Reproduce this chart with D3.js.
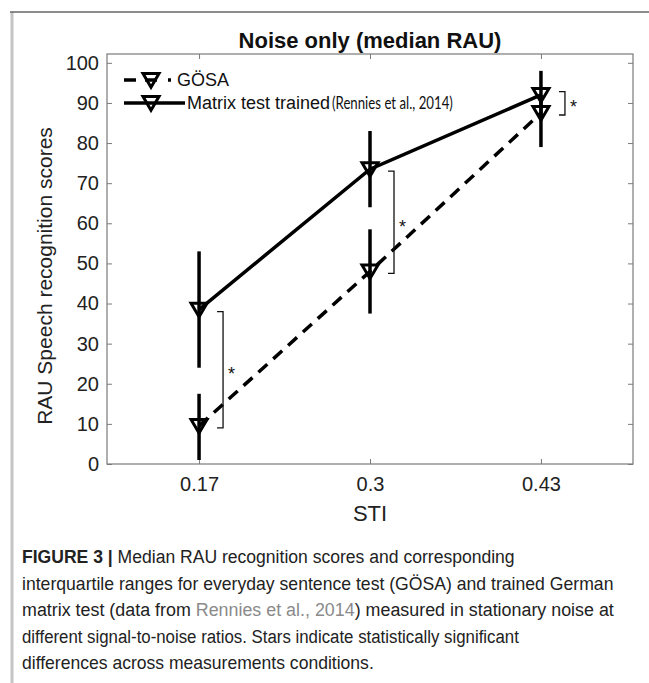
<!DOCTYPE html>
<html>
<head>
<meta charset="utf-8">
<script src="https://cdn.jsdelivr.net/npm/d3@7"></script>
<style>
    body { margin: 0; background: #ffffff; }
    svg { display: block; }
</style>
</head>
<body>
<script>
// 数据：STI 与两组测试的中位数、四分位区间
const stiValues = [0.17, 0.3, 0.43];
const stiLabels = ['0.17', '0.3', '0.43'];
const yTicks = [0, 10, 20, 30, 40, 50, 60, 70, 80, 90, 100];

const gosaMedian = [9.5, 48, 87.5];
const gosaLow = [1, 37.5, 79];
const gosaHigh = [17.5, 58.5, 92];

const matrixMedian = [38.5, 73.5, 92];
const matrixLow = [24, 64, 86];
const matrixHigh = [53, 83, 98];

// 显著性括号：所在 STI、上下端值、星号位置
const sigSti = [0.17, 0.3, 0.43];
const sigLow = [9, 47.5, 87];
const sigHigh = [38, 73, 92.8];
const sigStar = [23.5, 60, 90];

const captionLines = [
    [{t: 'FIGURE 3 | ', b: true}, {t: 'Median RAU recognition scores and corresponding'}],
    [{t: 'interquartile ranges for everyday sentence test (GÖSA) and trained German'}],
    [{t: 'matrix test (data from '}, {t: 'Rennies et al., 2014', c: '#8a8a8a'}, {t: ') measured in stationary noise at'}],
    [{t: 'different signal-to-noise ratios. Stars indicate statistically significant'}],
    [{t: 'differences across measurements conditions.'}]
];
const captionWidths = [493, 592, 592, 497, 352];

const width = 649, height = 683;
const margin = {left: 107, right: 16, top: 54, bottom: 218};

const svg = d3.select('body').append('svg')
    .attr('width', width)
    .attr('height', height)
    .style('font-family', 'Arial, "Liberation Sans", sans-serif');

// 页面边框
svg.append('line').attr('x1', 12).attr('x2', 12).attr('y1', 12).attr('y2', height)
    .attr('stroke', '#c4c4c4').attr('stroke-width', 3);
svg.append('line').attr('x1', 10).attr('x2', width).attr('y1', 12).attr('y2', 12)
    .attr('stroke', '#666666').attr('stroke-width', 1.5);

const x = d3.scaleLinear().domain([0.1, 0.5]).range([margin.left, width - margin.right]);
const y = d3.scaleLinear().domain([0, 102.2]).range([height - margin.bottom - 1, margin.top]);

const axisColor = '#7a7a7a';

// 把文字横向压缩到指定宽度
const squeezeTo = (sel, x0, y0, target) => {
    const w = sel.node().getComputedTextLength();
    const k = Math.min(1.2, target / w);
    sel.attr('x', 0).attr('y', 0)
        .attr('transform', `translate(${x0},${y0}) scale(${k},1)`);
};

// 坐标轴（MATLAB 风格，刻度向内，四边闭合）
const styleAxis = (g) => {
    g.select('.domain').remove();
    g.selectAll('.tick line').attr('stroke', axisColor);
    g.selectAll('.tick text')
        .attr('fill', '#222222')
        .style('font-size', '20px');
};

svg.append('g')
    .attr('transform', `translate(${x.range()[0]},0)`)
    .call(d3.axisLeft(y).tickValues(yTicks).tickSize(-5).tickPadding(8))
    .call(styleAxis);
svg.append('g')
    .attr('transform', `translate(${x.range()[1]},0)`)
    .call(d3.axisRight(y).tickValues(yTicks).tickSize(-5).tickFormat(''))
    .call(styleAxis);
svg.append('g')
    .attr('transform', `translate(0,${y.range()[0]})`)
    .call(d3.axisBottom(x).tickValues(stiValues).tickFormat((d, i) => stiLabels[i]).tickSize(-5).tickPadding(13))
    .call(styleAxis);
svg.append('g')
    .attr('transform', `translate(0,${y.range()[1]})`)
    .call(d3.axisTop(x).tickValues(stiValues).tickSize(-5).tickFormat(''))
    .call(styleAxis);

svg.append('rect')
    .attr('x', x.range()[0]).attr('y', y.range()[1])
    .attr('width', x.range()[1] - x.range()[0])
    .attr('height', y.range()[0] - y.range()[1])
    .attr('fill', 'none')
    .attr('stroke', axisColor)
    .attr('stroke-width', 1.2);

// 标题与轴标题
svg.append('text')
    .attr('x', (x.range()[0] + x.range()[1]) / 2).attr('y', 48)
    .attr('text-anchor', 'middle')
    .style('font-size', '22px').style('font-weight', 'bold')
    .attr('fill', '#111111')
    .text('Noise only (median RAU)');

svg.append('text')
    .attr('transform', `translate(52,${(y.range()[0] + y.range()[1]) / 2 + 17}) rotate(-90)`)
    .attr('text-anchor', 'middle')
    .style('font-size', '21px')
    .attr('fill', '#222222')
    .text('RAU Speech recognition scores');

svg.append('text')
    .attr('x', (x.range()[0] + x.range()[1]) / 2).attr('y', 521)
    .attr('text-anchor', 'middle')
    .style('font-size', '22px')
    .attr('fill', '#222222')
    .text('STI');

// 折线
const lineGen = d3.line().x(d => x(d[0])).y(d => y(d[1]));
const lineW = 3.5;

svg.append('path')
    .datum(d3.zip(stiValues, gosaMedian))
    .attr('d', lineGen)
    .attr('fill', 'none').attr('stroke', '#000').attr('stroke-width', lineW)
    .attr('stroke-dasharray', '12,8');

svg.append('path')
    .datum(d3.zip(stiValues, matrixMedian))
    .attr('d', lineGen)
    .attr('fill', 'none').attr('stroke', '#000').attr('stroke-width', lineW);

// 误差线（四分位区间）
const drawErrors = (lows, highs) => {
    svg.append('g').selectAll('line')
        .data(d3.zip(stiValues, lows, highs))
        .join('line')
        .attr('x1', d => x(d[0])).attr('x2', d => x(d[0]))
        .attr('y1', d => y(d[1])).attr('y2', d => y(d[2]))
        .attr('stroke', '#000').attr('stroke-width', lineW);
};
drawErrors(gosaLow, gosaHigh);
drawErrors(matrixLow, matrixHigh);

// 倒三角标记
const tri = s => `M${-s},${-s * 0.8}L${s},${-s * 0.8}L0,${s * 0.9}Z`;
const drawMarkers = (medians) => {
    svg.append('g').selectAll('path')
        .data(d3.zip(stiValues, medians))
        .join('path')
        .attr('transform', d => `translate(${x(d[0])},${y(d[1])})`)
        .attr('d', tri(8))
        .attr('fill', 'none').attr('stroke', '#000').attr('stroke-width', 3)
        .attr('stroke-linejoin', 'miter');
};
drawMarkers(gosaMedian);
drawMarkers(matrixMedian);

// 显著性括号与星号
const sigG = svg.append('g');
d3.zip(sigSti, sigLow, sigHigh, sigStar).forEach(([s, lo, hi, st]) => {
    const bx = x(s) + 24;
    sigG.append('path')
        .attr('d', `M${bx - 6},${y(hi)}H${bx}V${y(lo)}H${bx - 6}`)
        .attr('fill', 'none').attr('stroke', '#111').attr('stroke-width', 1.3);
    sigG.append('text')
        .attr('x', bx + 5).attr('y', y(st) + 10)
        .style('font-size', '18px')
        .attr('fill', '#111')
        .text('*');
});

// 图例
const legend = svg.append('g');
const legendRows = [
    {y: 80, dash: '12,9,12,11,3,100', x2: 174, tx: 177, label: 'GÖSA', extra: ''},
    {y: 103, dash: null, x2: 185, tx: 187, label: 'Matrix test trained', extra: '(Rennies et al., 2014)'}
];
legendRows.forEach(r => {
    legend.append('line')
        .attr('x1', 124).attr('x2', r.x2).attr('y1', r.y).attr('y2', r.y)
        .attr('stroke', '#000').attr('stroke-width', lineW)
        .attr('stroke-dasharray', r.dash);
    legend.append('path')
        .attr('transform', `translate(151,${r.y})`)
        .attr('d', tri(8))
        .attr('fill', 'none').attr('stroke', '#000').attr('stroke-width', 3);
    legend.append('text')
        .attr('x', r.tx).attr('y', r.y + 6)
        .style('font-size', '18px')
        .attr('fill', '#111')
        .text(r.label);
    if (r.extra) {
        const t = legend.append('text')
            .style('font-family', 'Lato, "Open Sans", sans-serif')
            .style('font-size', '17px')
            .attr('fill', '#111')
            .text(r.extra);
        squeezeTo(t, 332, r.y + 6, 121);
    }
});

// 图注
const cap = svg.append('g');
captionLines.forEach((parts, i) => {
    const t = cap.append('text')
        .style('font-size', '19px')
        .attr('fill', '#222');
    parts.forEach(p => {
        t.append('tspan')
            .style('font-weight', p.b ? 'bold' : null)
            .attr('fill', p.c || null)
            .text(p.t);
    });
    squeezeTo(t, 22, 563 + i * 26.5, captionWidths[i]);
});
</script>
</body>
</html>
